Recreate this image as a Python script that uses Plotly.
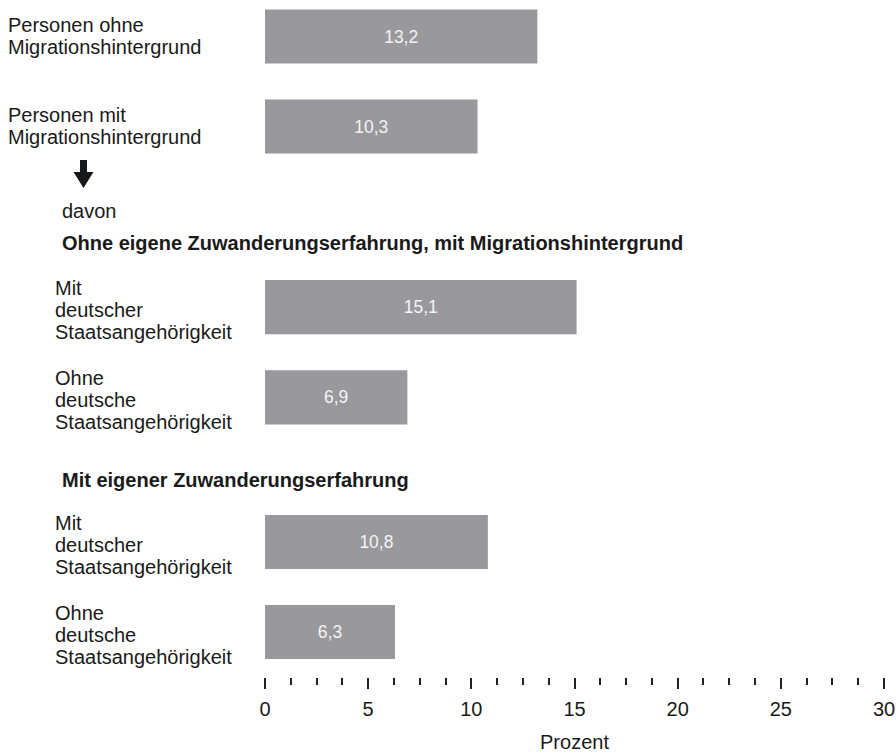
import plotly.graph_objects as go

# ---- data ----
labels_g1 = ["Personen ohne<br>Migrationshintergrund", "Personen mit<br>Migrationshintergrund"]
values_g1 = [13.2, 10.3]
labels_g2 = ["Mit<br>deutscher<br>Staatsangehörigkeit", "Ohne<br>deutsche<br>Staatsangehörigkeit"]
values_g2 = [15.1, 6.9]
labels_g3 = ["Mit<br>deutscher<br>Staatsangehörigkeit", "Ohne<br>deutsche<br>Staatsangehörigkeit"]
values_g3 = [10.8, 6.3]
heading_davon = "davon"
heading_g2 = "Ohne eigene Zuwanderungserfahrung, mit Migrationshintergrund"
heading_g3 = "Mit eigener Zuwanderungserfahrung"
x_title = "Prozent"

# ---- style / geometry ----
W, H = 896, 753
ML, MR, MT, MB = 265, 12, 0, 76
PW, PH = W - ML - MR, H - MT - MB
FONT = "Liberation Sans, Arial, Helvetica, sans-serif"
BAR = "#98989d"
TXT = "#1a1a1a"
FS = 20
LINE_H = 22

def px_x(px):
    return (px - ML) / PW

def px_y(py):
    return 1 - (py - MT) / PH

fig = go.Figure()
groups = [(labels_g1, values_g1, "y"), (labels_g2, values_g2, "y2"), (labels_g3, values_g3, "y3")]
for labs, vals, ya in groups:
    fig.add_trace(go.Bar(
        x=vals, y=labs, orientation="h", xaxis="x", yaxis=ya,
        marker=dict(color=BAR, line=dict(width=0)), width=0.6,
        texttemplate="%{x:.1f}", textposition="inside", insidetextanchor="middle",
        textangle=0, constraintext="none",
        textfont=dict(family=FONT, size=17.5, color="#f4f4f4"),
        hoverinfo="skip", showlegend=False,
    ))

ycommon = dict(type="category", showticklabels=False, ticks="", showgrid=False,
               zeroline=False, showline=False, anchor="x", fixedrange=True)

fig.update_layout(
    width=W, height=H, margin=dict(l=ML, r=MR, t=MT, b=MB),
    paper_bgcolor="white", plot_bgcolor="white",
    separators=",.",
    font=dict(family=FONT, size=FS, color=TXT),
    xaxis=dict(range=[0, 30], domain=[0, 1], anchor="y3", showgrid=False, zeroline=False,
               showline=False, ticks="outside", tick0=0, dtick=5, ticklen=11, tickwidth=2,
               tickcolor="#222222", tickfont=dict(size=FS, color=TXT), ticklabelstandoff=3,
               fixedrange=True,
               minor=dict(ticks="outside", dtick=1.25, tick0=0, ticklen=7, tickwidth=2,
                          tickcolor="#222222", showgrid=False),
               title=dict(text=x_title, font=dict(size=FS, color=TXT), standoff=17)),
    yaxis=dict(domain=[px_y(171.5), 1], range=[1.5, -36.5 / 90], **ycommon),
    yaxis2=dict(domain=[px_y(442.5), px_y(262)], range=[1.5, -0.5], **ycommon),
    yaxis3=dict(domain=[0, px_y(497)], range=[1.5, -0.5], **ycommon),
)

ann = []
for labs, xp, ya in [(labels_g1, 6, "y"), (labels_g2, 53, "y2"), (labels_g3, 53, "y3")]:
    for lab in labs:
        lines = lab.split("<br>")
        n = len(lines)
        for i, line in enumerate(lines):
            off = (i - (n - 1) / 2) * LINE_H + (3 if n == 3 else -1)
            ann.append(dict(text=line, x=px_x(xp), xref="paper", y=lab, yref=ya,
                            xanchor="left", yanchor="middle", align="left", showarrow=False,
                            yshift=-off, font=dict(size=FS, color=TXT)))
for txt, py, bold in [(heading_davon, 211, False), (heading_g2, 243, True), (heading_g3, 480, True)]:
    ann.append(dict(text=f"<b>{txt}</b>" if bold else txt, x=px_x(60), xref="paper",
                    y=px_y(py), yref="paper", xanchor="left", yanchor="middle",
                    align="left", showarrow=False, font=dict(size=FS, color=TXT)))
fig.update_layout(annotations=ann)

# down arrow
pts = [(80, 160), (87, 160), (87, 172), (93.5, 172), (83.5, 188), (73.5, 172), (80, 172)]
path = "M " + " L ".join(f"{px_x(a):.5f},{px_y(b):.5f}" for a, b in pts) + " Z"
fig.add_shape(type="path", path=path, xref="paper", yref="paper",
              fillcolor="#15191d", line=dict(width=0))

fig.write_html("out.html", config={"displayModeBar": False},
               post_script="document.body.style.margin='0';")
